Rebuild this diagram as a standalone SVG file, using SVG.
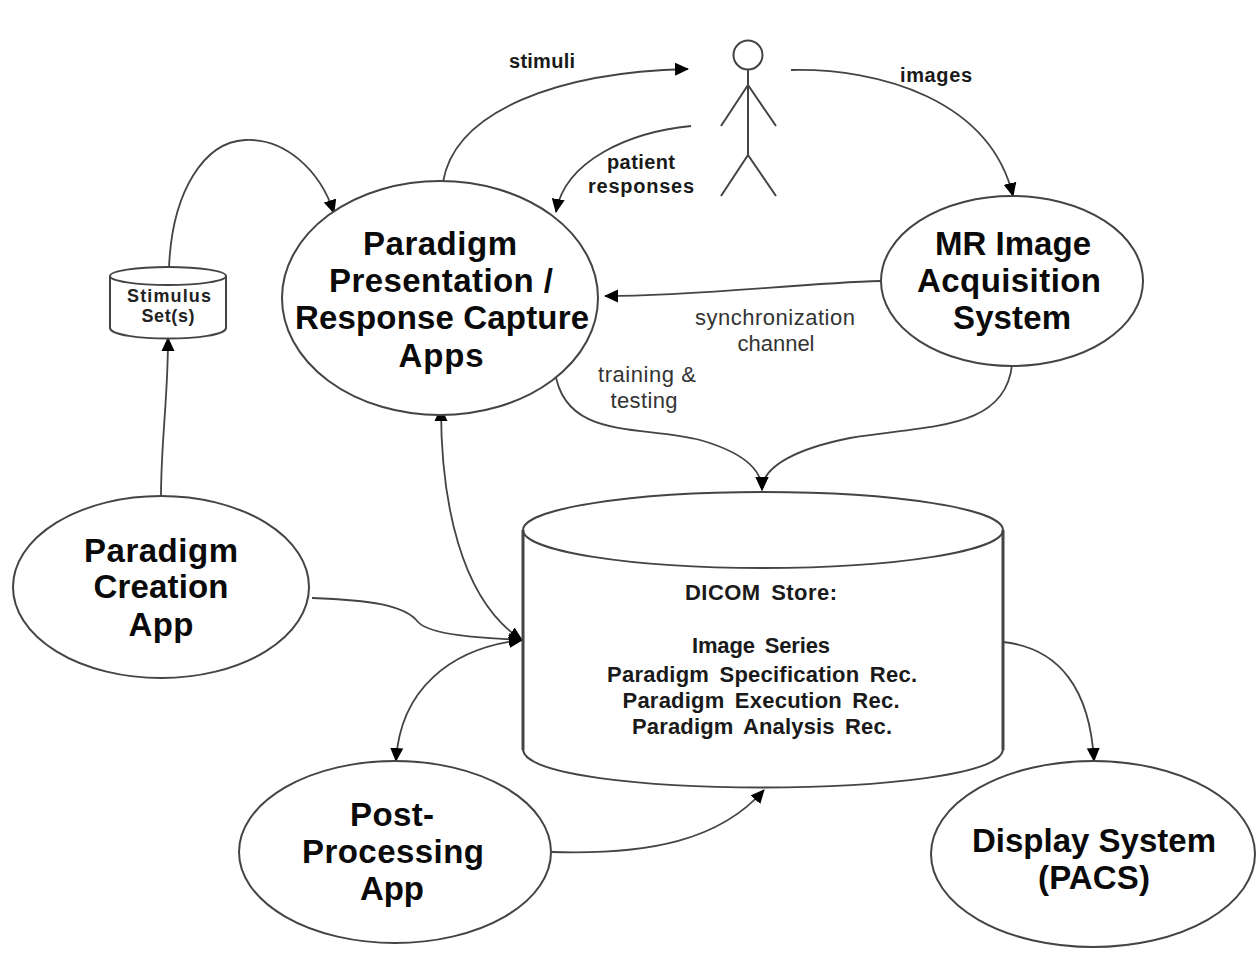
<svg xmlns="http://www.w3.org/2000/svg" width="1257" height="958" viewBox="0 0 1257 958">
<style>
text{font-family:"Liberation Sans",Arial,sans-serif;fill:#000;text-anchor:middle}
.n{font-size:33px;font-weight:bold;fill:#0a0a0a}
.m{font-size:20px;font-weight:bold;fill:#1a1a1a}
.d{font-size:22px;font-weight:bold;fill:#1a1a1a;word-spacing:4px}
.s{font-size:22px;fill:#333}
.t{font-size:18px;font-weight:bold;fill:#222}
.o{fill:#fff;stroke:#444;stroke-width:2}
.c{fill:none;stroke:#444;stroke-width:1.8}
</style>
<defs><marker id="a" markerWidth="14" markerHeight="14" refX="13" refY="7" orient="auto-start-reverse" markerUnits="userSpaceOnUse"><path d="M0 0.5L14 7L0 13.5Z" fill="#000"/></marker></defs>
<rect width="1257" height="958" fill="#fff"/>
<g id="connectors">
<path class="c" marker-end="url(#a)" d="M443 182C455 110 560 72 688 69"/>
<path class="c" marker-end="url(#a)" d="M691 126C630 132 565 160 556 212"/>
<path class="c" marker-end="url(#a)" d="M791 70C880 68 990 100 1013 196"/>
<path class="c" marker-end="url(#a)" d="M881 281C800 283 700 296 605 296"/>
<path class="c" marker-end="url(#a)" d="M169 268C172 190 205 142 245 140C285 138 320 170 334 213"/>
<path class="c" marker-end="url(#a)" d="M161 497C161 440 168 400 168 338"/>
<path class="c" marker-end="url(#a)" d="M555 372C565 440 640 425 700 440C735 450 762 465 762 490"/>
<path class="c" marker-end="url(#a)" d="M1012 365C1005 430 930 425 850 438C800 448 762 465 762 490"/>
<path class="c" marker-end="url(#a)" marker-start="url(#a)" d="M441 408C441 500 460 600 522 640"/>
<path class="c" marker-end="url(#a)" d="M312 598C370 600 405 605 418 622C430 635 480 638 522 640"/>
<path class="c" marker-end="url(#a)" marker-start="url(#a)" d="M522 640C450 648 400 690 396 761"/>
<path class="c" marker-end="url(#a)" d="M552 852C650 855 720 840 764 790"/>
<path class="c" marker-end="url(#a)" d="M1003 642C1060 648 1090 690 1094 761"/>
</g>
<g id="person"><g fill="none" stroke="#444" stroke-width="2"><circle cx="748" cy="55" r="14.5"/><path d="M748 70V155M721 126L748 85L776 126M721 196L748 155L776 196"/></g></g>
<g id="presentation"><ellipse class="o" cx="440" cy="298" rx="158" ry="117"/>
<text class="n" x="440" y="255" textLength="154">Paradigm</text><text class="n" x="441" y="292" textLength="224">Presentation /</text><text class="n" x="442" y="329" textLength="294">Response Capture</text><text class="n" x="441" y="367" textLength="85">Apps</text></g>
<g id="acquisition"><ellipse class="o" cx="1012" cy="281" rx="131" ry="85"/>
<text class="n" x="1013" y="255" textLength="156">MR Image</text><text class="n" x="1009" y="292" textLength="184">Acquisition</text><text class="n" x="1012" y="329" textLength="118">System</text></g>
<g id="creation"><ellipse class="o" cx="161" cy="587" rx="148" ry="91"/>
<text class="n" x="161" y="562" textLength="154">Paradigm</text><text class="n" x="161" y="598" textLength="135">Creation</text><text class="n" x="161" y="636" textLength="65">App</text></g>
<g id="postprocessing"><ellipse class="o" cx="395" cy="852" rx="156" ry="91"/>
<text class="n" x="392" y="826" textLength="84">Post-</text><text class="n" x="393" y="863" textLength="182">Processing</text><text class="n" x="392" y="900" textLength="64">App</text></g>
<g id="display"><ellipse class="o" cx="1093" cy="854" rx="162" ry="93"/>
<text class="n" x="1094" y="852" textLength="244">Display System</text><text class="n" x="1094" y="889" textLength="112">(PACS)</text></g>
<g id="stimulus"><path class="o" d="M110 276V328C112 342 224 342 226 328V276"/><ellipse class="o" cx="168" cy="276" rx="58" ry="9"/>
<text class="t" x="169" y="302" textLength="84">Stimulus</text><text class="t" x="168" y="322" textLength="53">Set(s)</text></g>
<g id="store"><path class="o" d="M523 530V750C530 800 995 800 1003 750V530"/><ellipse class="o" cx="763" cy="530" rx="240" ry="38"/><path d="M523 530V750M1003 530V750" fill="none" stroke="#444" stroke-width="3"/>
<text class="d" x="761" y="600" textLength="152">DICOM Store:</text><text class="d" x="761" y="653" textLength="138">Image Series</text><text class="d" x="762" y="682" textLength="310">Paradigm Specification Rec.</text><text class="d" x="761" y="708" textLength="277">Paradigm Execution Rec.</text><text class="d" x="762" y="734" textLength="260">Paradigm Analysis Rec.</text></g>
<g id="labels"><text class="m" x="542" y="68" textLength="66">stimuli</text><text class="m" x="936" y="82" textLength="72">images</text><text class="m" x="641" y="169" textLength="68">patient</text><text class="m" x="641" y="193" textLength="106">responses</text>
<text class="s" x="775" y="325" textLength="160">synchronization</text><text class="s" x="776" y="351" textLength="77">channel</text><text class="s" x="647" y="382" textLength="98">training &amp;</text><text class="s" x="644" y="408" textLength="67">testing</text></g>
</svg>
